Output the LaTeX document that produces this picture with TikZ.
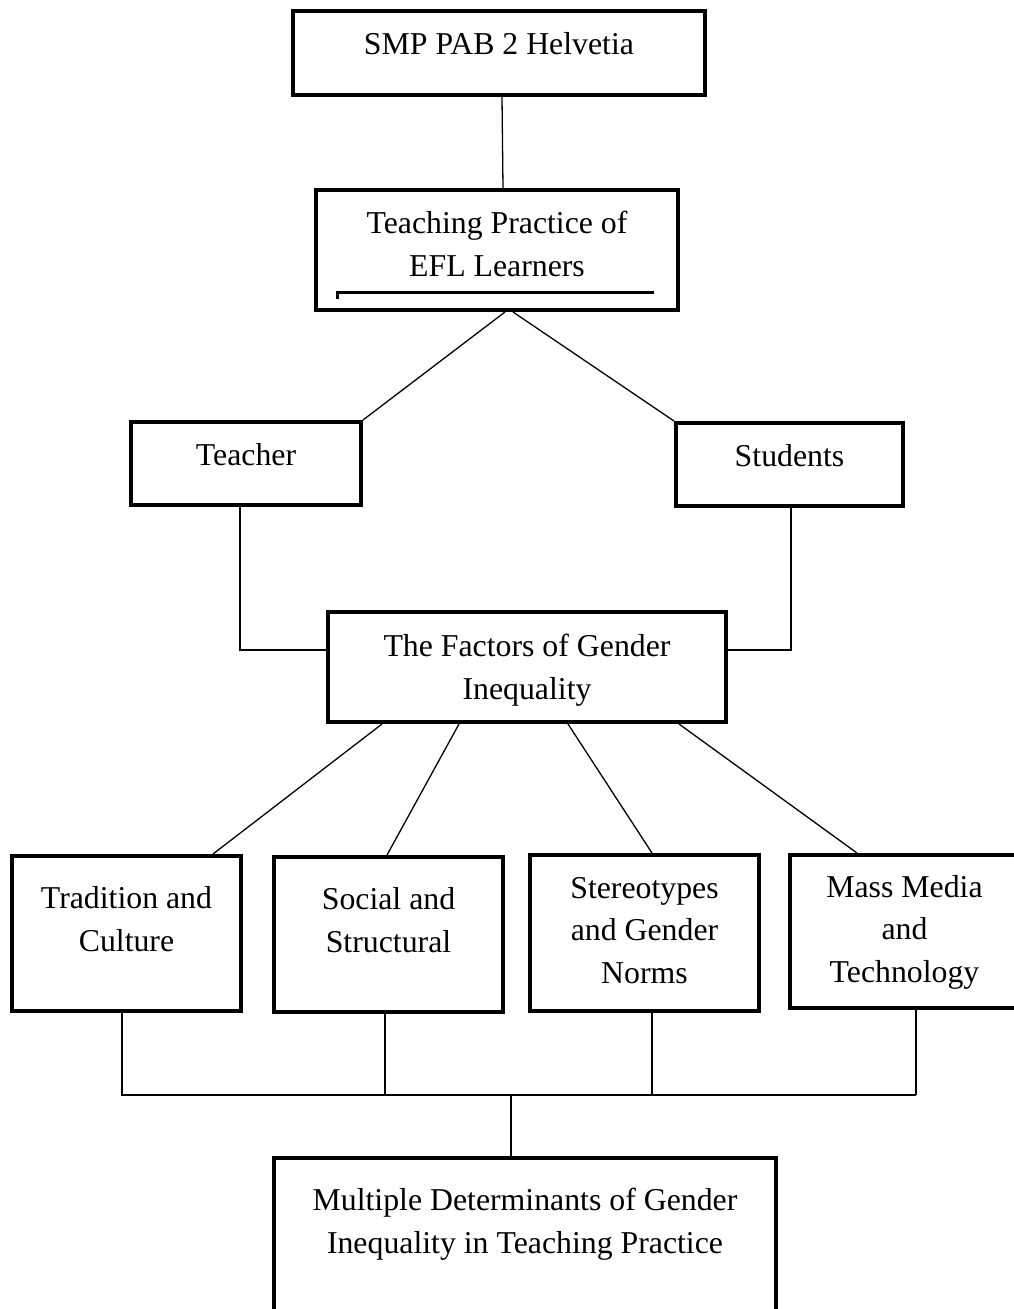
\documentclass[tikz,border=0pt]{standalone}
\usepackage{fontspec}
\setmainfont{Liberation Serif}
\usetikzlibrary{calc}
\begin{document}
\begin{tikzpicture}[x=1pt,y=-1pt,
  box/.style={draw, line width=4pt, inner sep=0pt, fill=none},
  txt/.style={inner sep=0pt, align=center, anchor=base, font=\fontsize{31.8}{42.5}\selectfont},
  conn/.style={line width=1.3pt}]
\useasboundingbox (0,0) rectangle (1014,1309);
% boxes
\node[box, minimum width=412pt, minimum height=84pt] (smp) at (499,53) {};
\node[box, minimum width=362pt, minimum height=120pt] (teach) at (497,250) {};
\node[box, minimum width=230pt, minimum height=83pt] (teacher) at (246,463.5) {};
\node[box, minimum width=227pt, minimum height=83pt] (students) at (789.5,464.5) {};
\node[box, minimum width=398pt, minimum height=110pt] (factors) at (527,667) {};
\node[box, minimum width=229pt, minimum height=155pt] (trad) at (126.5,933.5) {};
\node[box, minimum width=229pt, minimum height=155pt] (social) at (388.5,934.5) {};
\node[box, minimum width=229pt, minimum height=156pt] (stereo) at (644.5,933) {};
\node[box, minimum width=229pt, minimum height=153pt] (mass) at (904.5,931.5) {};
\node[box, minimum width=502pt, minimum height=170pt] (multi) at (525,1243) {};
% texts (base = baseline of last line)
\node[txt] (smp-t) at (499,54) {SMP PAB 2 Helvetia};
\node[txt] (teach-t) at (497,276) {Teaching Practice of\\EFL Learners};
\node[txt] (teacher-t) at (246,465) {Teacher};
\node[txt] (students-t) at (789.5,466) {Students};
\node[txt] (factors-t) at (527,699) {The Factors of Gender\\Inequality};
\node[txt] (trad-t) at (126.5,951) {Tradition and\\Culture};
\node[txt] (social-t) at (388.5,952) {Social and\\Structural};
\node[txt] (stereo-t) at (644.5,983) {Stereotypes\\and Gender\\Norms};
\node[txt] (mass-t) at (904.5,982) {Mass Media\\and\\Technology};
\node[txt] (multi-t) at (525,1253) {Multiple Determinants of Gender\\Inequality in Teaching Practice};
% underline mark inside teaching box
\draw[line width=3pt] ($(teach.south west)+(23,-13)$) -- ($(teach.south west)+(23,-20)$) -- ($(teach.south west)+(340,-20)$);
% connectors
\draw[conn] ([xshift=3pt]smp.south) -- ([xshift=6pt]teach.north);
\draw[conn] ([xshift=8pt]teach.south) -- (teacher.north east);
\draw[conn] ([xshift=16pt]teach.south) -- (students.north west);
\draw[conn] ([xshift=-6pt]teacher.south) |- ([yshift=17pt]factors.west);
\draw[conn] ([xshift=1.5pt]students.south) |- ([yshift=17pt]factors.east);
\draw[conn] ([xshift=-145pt]factors.south) -- ([xshift=86.5pt]trad.north);
\draw[conn] ([xshift=-68pt]factors.south) -- ([xshift=-1.5pt]social.north);
\draw[conn] ([xshift=41pt]factors.south) -- ([xshift=7.5pt]stereo.north);
\draw[conn] ([xshift=152pt]factors.south) -- ([xshift=-47.5pt]mass.north);
\coordinate (busR) at (916,1095);
\coordinate (b1) at ([xshift=-4.5pt]trad.south);
\coordinate (b2) at ([xshift=-3.5pt]social.south);
\coordinate (b3) at ([xshift=7.5pt]stereo.south);
\coordinate (b4) at ([xshift=11.5pt]mass.south);
\coordinate (b5) at ([xshift=-14pt]multi.north);
\draw[conn] (b1) |- (busR);
\draw[conn] (b2) -- (b2 |- busR);
\draw[conn] (b3) -- (b3 |- busR);
\draw[conn] (b4) -- (b4 |- busR);
\draw[conn] (b5) -- (b5 |- busR);
\end{tikzpicture}
\end{document}
